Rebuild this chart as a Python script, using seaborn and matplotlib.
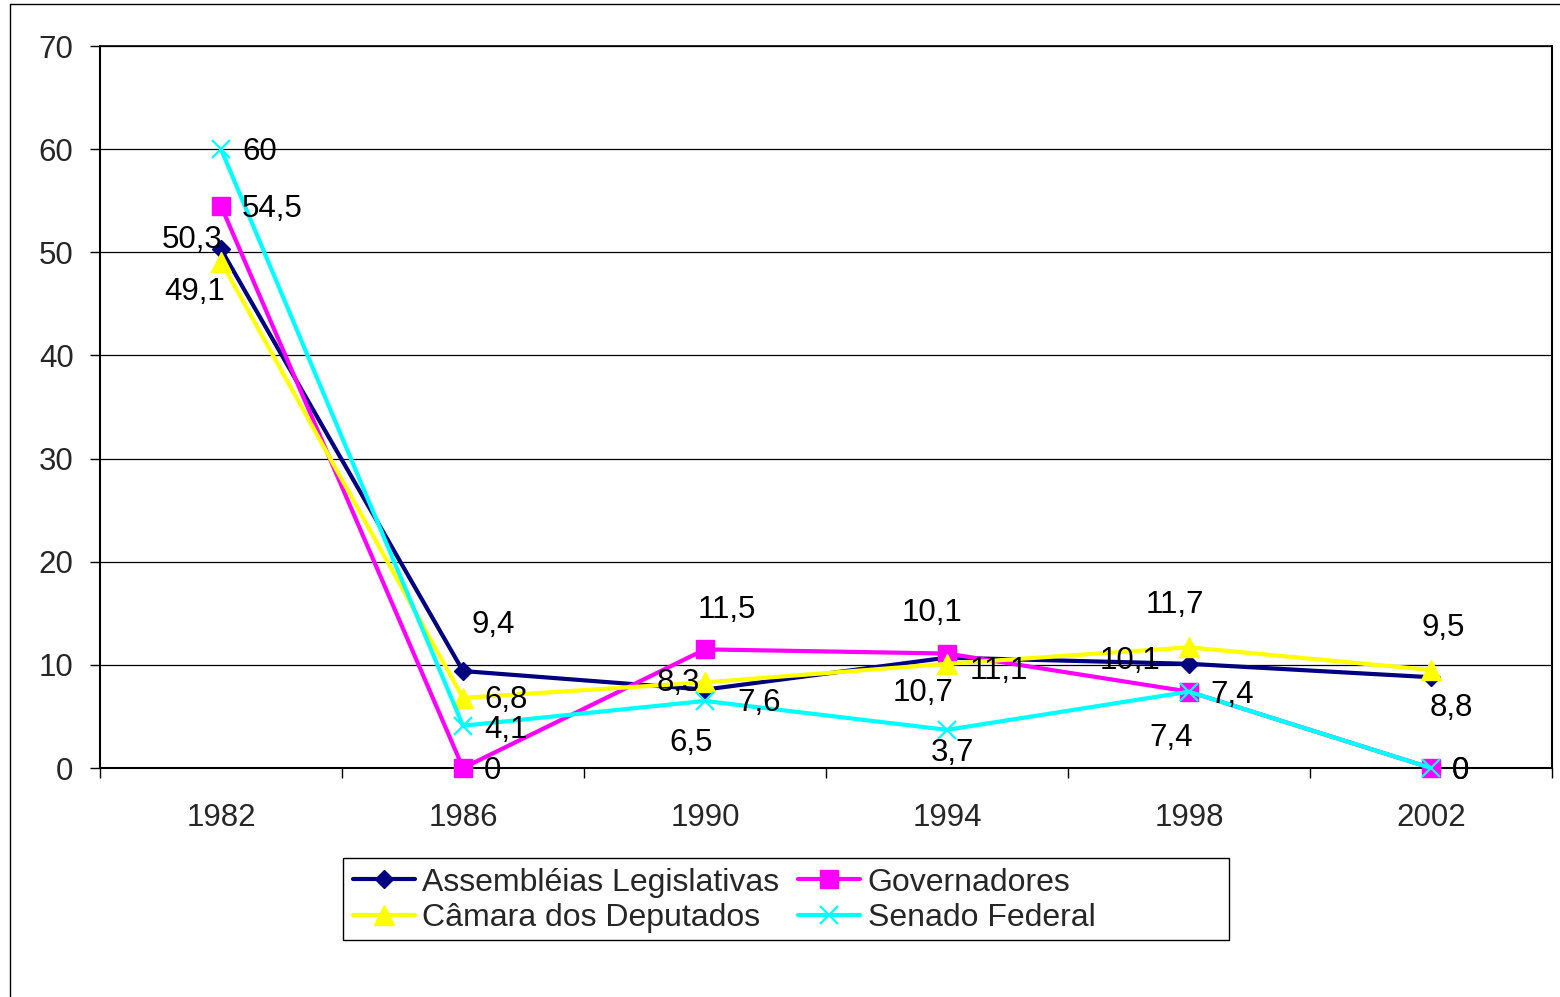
import matplotlib
matplotlib.use("Agg")
import matplotlib.pyplot as plt
import seaborn as sns
import pandas as pd
from matplotlib.lines import Line2D
from matplotlib.patches import Rectangle

# Election years (categories) and percentage series
years = ["1982", "1986", "1990", "1994", "1998", "2002"]
assembleias = [50.3, 9.4, 7.6, 10.7, 10.1, 8.8]
governadores = [54.5, 0, 11.5, 11.1, 7.4, 0]
camara = [49.1, 6.8, 8.3, 10.1, 11.7, 9.5]
senado = [60, 4.1, 6.5, 3.7, 7.4, 0]

series_names = ["Assembléias Legislativas", "Governadores",
                "Câmara dos Deputados", "Senado Federal"]
series_values = [assembleias, governadores, camara, senado]

# Visual style per series
styles = {
    "Assembléias Legislativas": dict(color="#000080", marker="D", ms=9, mew=1),
    "Governadores": dict(color="#FF00FF", marker="s", ms=13.5, mew=1),
    "Câmara dos Deputados": dict(color="#FFFF00", marker="^", ms=14, mew=1),
    "Senado Federal": dict(color="#00FFFF", marker="x", ms=12.5, mew=1.6),
}

# Value label placement per point: (dx px, dy px, horizontal alignment)
label_layout = {
    "Assembléias Legislativas": [(1, 12, "right"), (30, 49, "center"), (32, -10, "left"),
                                 (-24, -32, "center"), (-29, 6, "right"), (20, -28, "center")],
    "Governadores": [(21, 0, "left"), (21, 0, "left"), (22, 42, "center"),
                     (23, -14, "left"), (21, 0, "left"), (21, 0, "left")],
    "Câmara dos Deputados": [(4, -27, "right"), (21, 1, "left"), (-5, 2, "right"),
                             (-15, 54, "center"), (-14, 45, "center"), (12, 45, "center")],
    "Senado Federal": [(21, 0, "left"), (21, -1, "left"), (-14, -39, "center"),
                       (6, -20, "center"), (-18, -43, "center"), (21, 0, "left")],
}
# The text box includes descender room; shift so the digits sit centred
BASELINE_SHIFT = -3

sns.set_style("white")
plt.rcParams["font.family"] = ["Liberation Sans", "DejaVu Sans"]
FS = 22.5
LEG_FS = 23

fig = plt.figure(figsize=(15.6, 9.97), dpi=100)
ax = fig.add_axes([100 / 1560, 1 - 768 / 997, 1452 / 1560, 722 / 997])

xpos = list(range(len(years)))
for name, vals in zip(series_names, series_values):
    st = styles[name]
    df = pd.DataFrame({"x": xpos, "y": vals})
    sns.lineplot(data=df, x="x", y="y", ax=ax, color=st["color"], linewidth=3,
                 marker=st["marker"], markersize=st["ms"], markeredgecolor=st["color"],
                 markeredgewidth=st["mew"], markerfacecolor=st["color"],
                 legend=False, zorder=3, clip_on=False)

for name, vals in zip(series_names, series_values):
    for i, v in enumerate(vals):
        dx, dy, ha = label_layout[name][i]
        ax.annotate(f"{v:g}".replace(".", ","), xy=(i, v),
                    xytext=(dx, dy + BASELINE_SHIFT),
                    textcoords="offset pixels", ha=ha, va="center",
                    fontsize=FS, color="black", zorder=5)

ax.set_xlim(-0.5, len(years) - 0.5)
ax.set_ylim(0, 70)
ax.set_yticks(range(0, 71, 10))
ax.set_xticks(xpos)
ax.set_xticklabels(years)
ax.set_xticks([i - 0.5 for i in range(len(years) + 1)], minor=True)
ax.tick_params(axis="x", which="major", length=0, pad=25, labelsize=FS)
ax.tick_params(axis="x", which="minor", length=7, width=1, direction="out",
               bottom=True, color="black")
ax.tick_params(axis="y", which="major", length=7, width=1, direction="out",
               left=True, pad=12, labelsize=FS, color="black")
ax.set_xlabel("")
ax.set_ylabel("")
ax.grid(axis="y", color="black", linewidth=0.9)
ax.set_axisbelow(True)
for side in ["left", "bottom", "top", "right"]:
    ax.spines[side].set_visible(True)
    ax.spines[side].set_color("black")
ax.spines["left"].set_linewidth(1.5)
ax.spines["bottom"].set_linewidth(1.5)
ax.spines["top"].set_linewidth(1.2)
ax.spines["right"].set_linewidth(1.5)

# Legend: two columns, row-major order, inside a fixed-size box
handles = {}
for name in series_names:
    st = styles[name]
    handles[name] = Line2D([], [], color=st["color"], linewidth=3, marker=st["marker"],
                           markersize=st["ms"], markeredgecolor=st["color"],
                           markerfacecolor=st["color"], markeredgewidth=st["mew"])
order = ["Assembléias Legislativas", "Câmara dos Deputados",
         "Governadores", "Senado Federal"]
fig.add_artist(Rectangle((343 / 1560, 1 - 940 / 997), 886 / 1560, 82 / 997,
                         transform=fig.transFigure, facecolor="white",
                         edgecolor="black", linewidth=1, zorder=4))
leg = fig.legend([handles[n] for n in order], order, ncol=2, loc="upper left",
                 bbox_to_anchor=(343 / 1560, 1 - 858 / 997), borderaxespad=0,
                 fontsize=LEG_FS, frameon=False,
                 handlelength=1.95, handletextpad=0.22, columnspacing=0.6,
                 labelspacing=0.17, borderpad=0.3)
leg.set_zorder(5)

# Chart area border (left and top edges)
fig.add_artist(Line2D([9.5 / 1560, 9.5 / 1560], [0, 1 - 4.5 / 997],
                      transform=fig.transFigure, color="black", linewidth=1))
fig.add_artist(Line2D([9.5 / 1560, 1], [1 - 4.5 / 997, 1 - 4.5 / 997],
                      transform=fig.transFigure, color="black", linewidth=1))

fig.savefig("out.png", dpi=100, facecolor="white")
